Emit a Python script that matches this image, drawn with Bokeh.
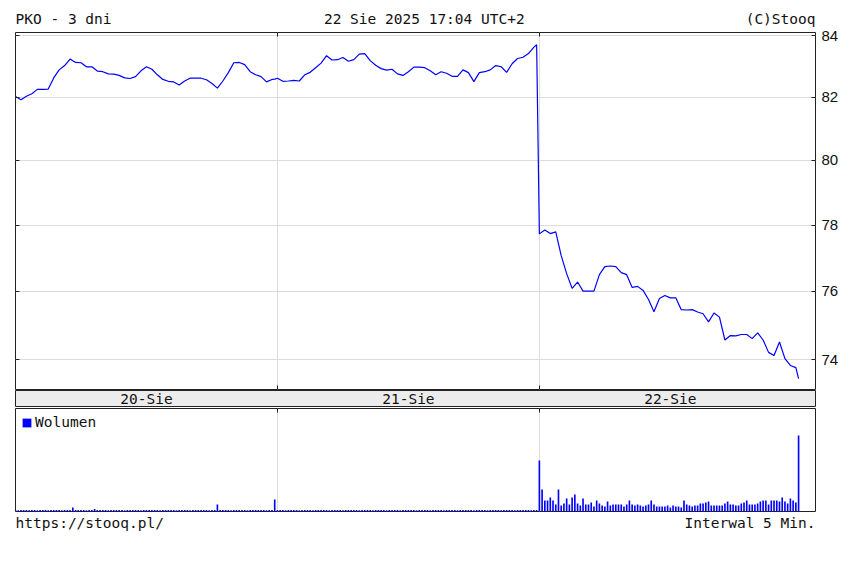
from bokeh.plotting import figure
from bokeh.layouts import column
from bokeh.models import (Range1d, FixedTicker, PrintfTickFormatter, LinearAxis, LogAxis,
                          Legend, LegendItem, Grid)
from bokeh.core.properties import value
from bokeh.embed import file_html
from bokeh.resources import INLINE

# ---------------- data ----------------
BARS_PER_DAY = 96
day_labels = ["20-Sie", "21-Sie", "22-Sie"]
# 5-minute bar indices sampled within each session (09:00 = 0)
price_bars = [0, 2, 4, 6, 8, 10, 12, 14, 16, 18, 20, 22, 24, 26, 28, 30, 32, 34, 36, 38,
              40, 42, 44, 46, 48, 50, 52, 54, 56, 58, 60, 62, 64, 66, 68, 70, 72, 74, 76, 78,
              80, 82, 84, 86, 88, 90, 92, 94, 95]
price_d1 = [82.02, 81.92, 82.03, 82.11, 82.25, 82.25, 82.26, 82.62, 82.88, 83.02,
            83.23, 83.12, 83.11, 82.98, 82.98, 82.84, 82.82, 82.75, 82.74, 82.70,
            82.62, 82.60, 82.66, 82.85, 82.98, 82.90, 82.72, 82.57, 82.51, 82.49,
            82.39, 82.52, 82.61, 82.61, 82.61, 82.56, 82.44, 82.29, 82.52, 82.79,
            83.11, 83.12, 83.05, 82.82, 82.72, 82.66, 82.49, 82.57, 82.58]
price_d2 = [82.61, 82.51, 82.52, 82.54, 82.52, 82.72, 82.80, 82.95, 83.10, 83.34,
            83.20, 83.21, 83.28, 83.16, 83.21, 83.39, 83.41, 83.18, 83.03, 82.92,
            82.87, 82.90, 82.75, 82.70, 82.82, 82.97, 82.97, 82.95, 82.85, 82.72,
            82.82, 82.77, 82.67, 82.67, 82.88, 82.79, 82.50, 82.79, 82.82, 82.88,
            83.02, 82.98, 82.80, 83.08, 83.25, 83.29, 83.41, 83.62, 83.70]
price_d3 = [77.73, 77.85, 77.74, 77.79, 77.07, 76.53, 76.09, 76.28, 76.01, 76.01,
            76.01, 76.50, 76.74, 76.76, 76.74, 76.56, 76.50, 76.12, 76.15, 76.03,
            75.76, 75.40, 75.79, 75.88, 75.81, 75.81, 75.46, 75.45, 75.46, 75.39,
            75.34, 75.10, 75.36, 75.24, 74.57, 74.70, 74.69, 74.73, 74.73, 74.61,
            74.78, 74.57, 74.21, 74.12, 74.51, 74.03, 73.83, 73.77, 73.45]

vol_d1 = [1.5, 1.2, 1.5, 1.4, 1.5, 1.2, 1.5, 1.5, 1.3, 1.5, 1.4, 1.5,
          1.2, 1.5, 1.5, 1.4, 1.5, 1.3, 1.5, 1.5, 1.5, 4.0, 1.5, 1.4,
          1.5, 1.5, 1.3, 1.5, 1.5, 2.5, 1.5, 1.4, 1.5, 1.5, 1.2, 1.5,
          1.5, 1.4, 1.5, 1.5, 1.3, 1.5, 1.5, 1.5, 1.4, 1.5, 1.2, 1.5,
          1.5, 1.5, 1.4, 1.5, 1.5, 1.3, 1.5, 1.5, 1.4, 1.5, 1.5, 1.2,
          1.5, 1.5, 1.4, 1.5, 1.3, 1.5, 1.5, 1.5, 1.4, 1.5, 1.5, 1.3,
          1.5, 1.5, 7.0, 1.5, 1.4, 1.5, 1.5, 1.3, 1.5, 1.5, 1.4, 1.5,
          1.5, 1.3, 1.5, 1.5, 1.4, 1.5, 1.5, 1.5, 1.3, 1.5, 1.5, 12.0]
vol_d2 = [1.5, 1.4, 1.5, 1.3, 1.5, 1.5, 1.4, 1.5, 1.2, 1.5, 1.5, 1.4,
          1.5, 1.3, 1.5, 1.5, 1.4, 1.5, 1.5, 1.2, 1.5, 1.4, 1.5, 1.5,
          1.3, 1.5, 1.5, 1.4, 1.5, 1.5, 1.2, 1.5, 1.4, 1.5, 1.5, 1.3,
          1.5, 1.5, 1.4, 1.5, 1.2, 1.5, 1.5, 1.4, 1.5, 1.3, 1.5, 1.5,
          1.4, 1.5, 1.5, 1.2, 1.5, 1.4, 1.5, 1.5, 1.3, 1.5, 1.5, 1.4,
          1.5, 1.2, 1.5, 1.5, 1.4, 1.5, 1.3, 1.5, 1.5, 1.4, 1.5, 1.5,
          1.2, 1.5, 1.4, 1.5, 1.5, 1.3, 1.5, 1.5, 1.4, 1.5, 1.2, 1.5,
          1.5, 1.4, 1.5, 1.3, 1.5, 1.5, 1.4, 1.5, 1.5, 1.3, 1.5, 1.5]
vol_d3 = [51, 22, 11, 11, 14, 11, 7, 22, 6, 8, 13, 7,
          14, 17, 8, 6, 13, 7, 7, 9, 5, 11, 8, 6,
          5, 10, 6, 7, 7, 7, 7, 5, 7, 11, 7, 6,
          7, 6, 5, 6, 7, 11, 7, 5, 5, 5, 5, 6,
          4, 6, 5, 5, 4, 11, 7, 6, 5, 6, 6, 8,
          8, 9, 10, 6, 6, 6, 6, 6, 8, 10, 7, 7,
          6, 6, 8, 9, 11, 7, 7, 7, 8, 10, 11, 11,
          7, 11, 11, 11, 10, 14, 10, 8, 13, 11, 9, 76]

price_ticks = [74, 76, 78, 80, 82, 84]
header_left = "PKO - 3 dni"
header_center = "22 Sie 2025 17:04 UTC+2"
header_right = "(C)Stooq"
footer_left = "https://stooq.pl/"
footer_right = "Interwal 5 Min."
volume_label = "Wolumen"

# ---------------- derived series ----------------
price_x, price_y = [], []
for d, series in enumerate([price_d1, price_d2, price_d3]):
    price_x += [d * BARS_PER_DAY + b for b in price_bars]
    price_y += series
vol_x, vol_y = [], []
for d, series in enumerate([vol_d1, vol_d2, vol_d3]):
    vol_x += [d * BARS_PER_DAY + i for i in range(len(series))]
    vol_y += series
day_bounds = [BARS_PER_DAY, 2 * BARS_PER_DAY]
day_centers = [d * BARS_PER_DAY + BARS_PER_DAY / 2 for d in range(3)]

# ---------------- styling ----------------
MONO_NAME = "DejaVu Sans Mono"
MONO = value(MONO_NAME)
MONO_SIZE = "14.5px"
TXT = "#111111"
FRAME = "#222222"
GRID = "#dcdcdc"
BLUE = "#0000ff"
FW = 800
LB, RB = 15, 23

xr = Range1d(0, 293.2)


def base(h, x_range=None, y_range=None, top=0, bottom=0):
    f = figure(frame_width=FW, frame_height=h,
               x_range=x_range if x_range is not None else Range1d(0, 1),
               y_range=y_range if y_range is not None else Range1d(0, 1),
               x_axis_location=None, y_axis_location=None,
               toolbar_location=None, output_backend="svg",
               min_border_left=LB, min_border_right=RB,
               min_border_top=top, min_border_bottom=bottom)
    f.grid.visible = False
    f.outline_line_color = None
    f.border_fill_color = "white"
    return f


def tick_axis(ticks, cls=LinearAxis):
    return cls(ticker=FixedTicker(ticks=ticks), major_tick_in=4, major_tick_out=0,
               major_tick_line_color=FRAME, minor_tick_line_color=None,
               axis_line_color=None, major_label_text_font_size="0px",
               major_label_text_color=None, major_label_standoff=0)


def add_text(f, x, y, s, align, baseline="alphabetic"):
    f.text(x=[x], y=[y], text=[s], text_align=align, text_baseline=baseline,
           text_font=MONO, text_font_size=MONO_SIZE, text_color=TXT)


# header
hdr = base(28)
add_text(hdr, 0, 0.33, header_left, "left")
add_text(hdr, 0.511, 0.33, header_center, "center")
add_text(hdr, 1, 0.33, header_right, "right")

# price panel
p = figure(frame_width=FW, frame_height=357, x_range=xr, y_range=Range1d(73.14, 84.10),
           y_axis_type="log", y_axis_location="right", x_axis_location=None,
           toolbar_location=None, output_backend="svg",
           min_border_left=LB, min_border_right=RB, min_border_top=4, min_border_bottom=1)
p.outline_line_color = FRAME
p.outline_line_width = 1
p.xgrid.visible = False
p.yaxis.ticker = FixedTicker(ticks=price_ticks)
p.yaxis.formatter = PrintfTickFormatter(format="%d")
p.yaxis.major_tick_in = 4
p.yaxis.major_tick_out = 0
p.yaxis.minor_tick_line_color = None
p.yaxis.axis_line_color = None
p.yaxis.major_tick_line_color = FRAME
p.yaxis.major_label_standoff = 6
p.yaxis.major_label_text_font = "Liberation Sans"
p.yaxis.major_label_text_font_size = "15px"
p.yaxis.major_label_text_color = TXT
p.ygrid.ticker = FixedTicker(ticks=price_ticks)
p.ygrid.grid_line_color = GRID
p.add_layout(Grid(dimension=0, ticker=FixedTicker(ticks=day_bounds), grid_line_color=GRID))
p.add_layout(tick_axis(price_ticks, LogAxis), "left")
p.add_layout(tick_axis(day_bounds), "above")
p.add_layout(tick_axis(day_bounds), "below")
p.line(price_x, price_y, line_color=BLUE, line_width=1.2)

# date band
band = base(17, x_range=xr)
band.outline_line_color = FRAME
band.background_fill_color = "#ececec"
band.text(x=day_centers, y=[0.5] * len(day_centers), text=day_labels,
          text_align="center", text_baseline="middle", text_font=MONO,
          text_font_size=MONO_SIZE, text_color=TXT)

# volume panel
v = base(103, x_range=xr, y_range=Range1d(0, 103), top=1, bottom=1)
v.outline_line_color = FRAME
v.add_layout(Grid(dimension=0, ticker=FixedTicker(ticks=day_bounds), grid_line_color=GRID))
v.add_layout(tick_axis(day_bounds), "above")
vol_r = v.vbar(x=vol_x, top=vol_y, width=0.6, fill_color=BLUE, line_color=None)
legend = Legend(items=[LegendItem(label=volume_label, renderers=[vol_r])],
                location="top_left", margin=6, padding=4, spacing=0,
                glyph_width=11, glyph_height=11, label_standoff=3,
                background_fill_alpha=0, border_line_color=None,
                label_text_font=MONO_NAME, label_text_font_size=MONO_SIZE, label_text_color=TXT)
v.add_layout(legend)

# footer
ftr = base(24)
add_text(ftr, 0, 0.55, footer_left, "left")
add_text(ftr, 1, 0.55, footer_right, "right")

layout = column(hdr, p, band, v, ftr, spacing=0)
open("out.html", "w").write(file_html(layout, INLINE))
